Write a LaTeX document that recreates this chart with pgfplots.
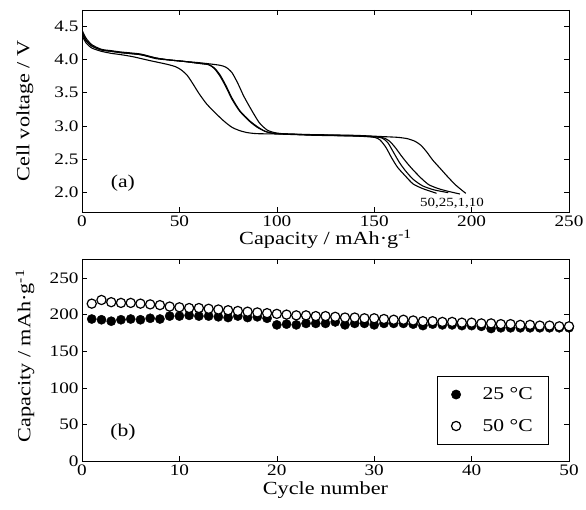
\documentclass[border=0pt]{standalone}
\usepackage{fontspec}
\setmainfont[FakeStretch=1.2]{Liberation Serif}
\usepackage{pgfplots}
\pgfplotsset{compat=1.18}
\pgfplotsset{
  panel/.style={
    scale only axis, width=487pt, height=202pt, anchor=south west,
    tick align=inside, major tick length=5pt,
    every tick/.style={black, line width=0.6pt},
    axis line style={line width=0.8pt},
    tick label style={font=\fontsize{16}{18}\selectfont},
    label style={font=\fontsize{18.5}{21}\selectfont},
    /pgf/number format/assume math mode=true,
  },
  curve/.style={black, line width=1.1pt, smooth, tension=0.4, mark=none},
}
\begin{document}
\begin{tikzpicture}
\path[use as bounding box] (0pt,0pt) rectangle (586pt,509pt);
% ---------- panel (a)
\begin{axis}[panel, at={(82pt,297pt)},
  xmin=0, xmax=250, ymin=1.71, ymax=4.74,
  xtick={0,50,100,150,200,250},
  ytick={2.0,2.5,3.0,3.5,4.0,4.5},
  yticklabel style={/pgf/number format/fixed, /pgf/number format/fixed zerofill, /pgf/number format/precision=1},
  xlabel={Capacity / mAh·g\textsuperscript{-1}},
  ylabel={Cell voltage / V},
  xlabel style={at={(axis description cs:0.5,-0.135)}, anchor=center},
  ylabel style={at={(axis description cs:-0.117,0.5)}, anchor=center},
]
% cycle 1
\addplot[curve] coordinates {(0,4.36) (2,4.25) (5,4.17) (10,4.12) (15,4.09) (20,4.07) (26,4.04) (35,3.98) (43,3.93) (48,3.89) (51,3.84) (54,3.76) (57,3.63) (60,3.49) (64,3.33) (69,3.18) (73,3.07) (77,2.98) (81,2.93) (85,2.90) (90,2.885) (100,2.88) (110,2.87) (120,2.86) (130,2.855) (140,2.85) (150,2.84) (155,2.82) (158,2.77) (161,2.67) (164,2.55) (167,2.44) (170,2.34) (174,2.22) (178,2.12) (183,2.06) (188,2.02) (194,1.98)};
% cycle 10
\addplot[curve] coordinates {(0,4.44) (2,4.32) (5,4.22) (10,4.15) (15,4.13) (20,4.11) (30,4.08) (38,4.02) (45,3.99) (52,3.97) (60,3.95) (66,3.93) (71,3.91) (74,3.88) (77,3.80) (80,3.64) (83,3.45) (87,3.24) (91,3.05) (95,2.94) (99,2.90) (105,2.88) (120,2.87) (140,2.86) (155,2.84) (162,2.83) (167,2.81) (171,2.77) (174,2.71) (177,2.61) (180,2.49) (184,2.36) (188,2.23) (192,2.11) (197,1.99)};
% cycle 25
\addplot[curve] coordinates {(0,4.41) (2,4.29) (5,4.20) (10,4.14) (15,4.12) (20,4.10) (30,4.07) (38,4.01) (45,3.99) (52,3.97) (60,3.94) (65,3.92) (68,3.86) (71,3.74) (74,3.58) (77,3.40) (81,3.22) (86,3.07) (90,2.98) (94,2.92) (98,2.89) (105,2.88) (120,2.865) (140,2.855) (150,2.84) (154,2.82) (157,2.75) (160,2.60) (163,2.45) (166,2.33) (170,2.20) (175,2.10) (181,2.04) (188,2.00)};
% cycle 50
\addplot[curve] coordinates {(0,4.40) (2,4.28) (5,4.20) (10,4.14) (15,4.12) (20,4.10) (30,4.07) (38,4.02) (45,3.99) (52,3.97) (60,3.94) (65,3.92) (68,3.87) (71,3.76) (74,3.60) (77,3.42) (81,3.23) (86,3.08) (90,2.99) (94,2.92) (98,2.89) (105,2.88) (120,2.865) (140,2.85) (150,2.83) (153,2.79) (156,2.68) (159,2.52) (162,2.38) (166,2.25) (170,2.13) (175,2.06) (182,1.99)};
\node[font=\fontsize{18}{20}\selectfont] at (axis cs:21,2.14) {(a)};
\node[font=\fontsize{12.5}{14}\selectfont] at (axis cs:190,1.84) {50,25,1,10};
\end{axis}
% ---------- panel (b)
\begin{axis}[panel, at={(82pt,48pt)},
  xmin=0, xmax=50, ymin=0, ymax=276,
  xtick={0,10,20,30,40,50},
  ytick={0,50,100,150,200,250},
  xlabel={Cycle number},
  ylabel={Capacity / mAh·g\textsuperscript{-1}},
  xlabel style={at={(axis description cs:0.5,-0.145)}, anchor=center},
  ylabel style={at={(axis description cs:-0.117,0.52)}, anchor=center},
  legend style={at={(axis description cs:0.959,0.079)}, anchor=south east,
    draw=black, line width=0.6pt, font=\fontsize{18}{20}\selectfont,
    row sep=14pt, inner xsep=14pt, inner ysep=10pt},
  legend cell align=left,
]
\addplot[only marks, mark=*, mark size=4.6pt, black, mark options={fill=black}] coordinates {
(1,194) (2,193) (3,191) (4,193) (5,194) (6,193) (7,195) (8,194) (9,198) (10,198)
(11,199) (12,198) (13,198) (14,197) (15,196) (16,198) (17,196) (18,197) (19,195) (20,186)
(21,187) (22,186) (23,188) (24,188) (25,188) (26,190) (27,186) (28,188) (29,188) (30,186)
(31,188) (32,188) (33,188) (34,187) (35,185) (36,187) (37,186) (38,186) (39,185) (40,185)
(41,184) (42,181) (43,182) (44,182) (45,182) (46,182) (47,182) (48,182) (49,182) (50,182)};
\addlegendentry{\hspace{20pt}25 °C}
\addplot[only marks, mark=*, mark size=4.6pt, black, mark options={fill=white, line width=1.2pt}] coordinates {
(1,215) (2,220) (3,217) (4,216) (5,216) (6,215) (7,214) (8,213) (9,211) (10,210)
(11,209) (12,209) (13,208) (14,207) (15,206) (16,205) (17,204) (18,203) (19,202) (20,201)
(21,200) (22,199) (23,199) (24,198) (25,198) (26,197) (27,196) (28,196) (29,195) (30,195)
(31,194) (32,193) (33,193) (34,192) (35,191) (36,191) (37,190) (38,190) (39,189) (40,189)
(41,188) (42,188) (43,187) (44,187) (45,186) (46,186) (47,185) (48,185) (49,184) (50,184)};
\addlegendentry{\hspace{20pt}50 °C}
\node[font=\fontsize{18}{20}\selectfont] at (axis cs:4.2,40) {(b)};
\end{axis}
\end{tikzpicture}
\end{document}
